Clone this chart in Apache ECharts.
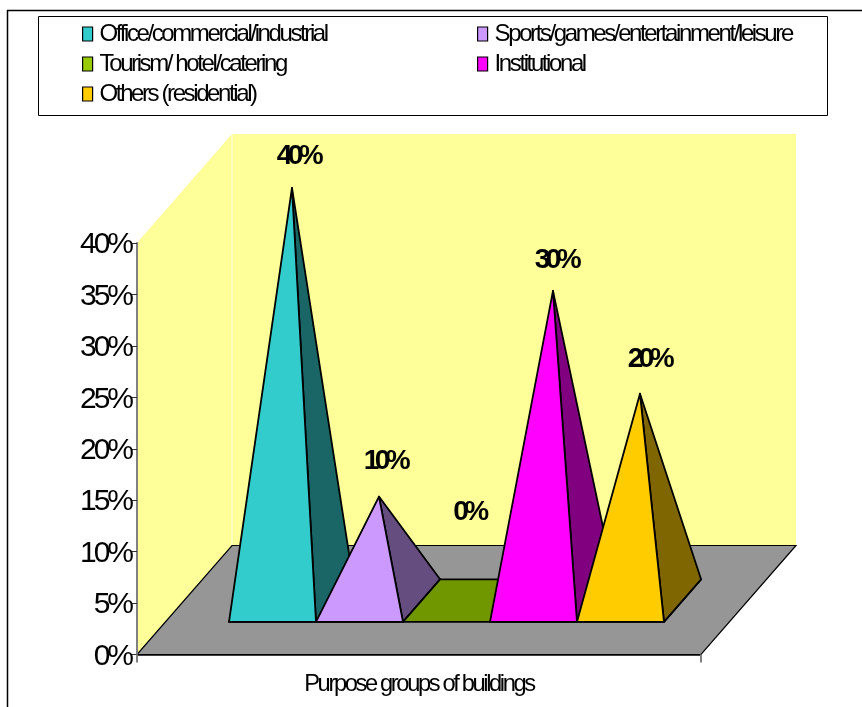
<!DOCTYPE html>
<html>
<head>
<meta charset="utf-8">
<style>html,body{margin:0;padding:0;background:#fff}#chart{width:862px;height:707px}</style>
<script src="https://cdn.jsdelivr.net/npm/echarts@6/dist/echarts.min.js"></script>
</head>
<body>
<div id="chart"></div>
<script>
// Buildings by purpose group, share of total
const categories = ['Purpose groups of buildings'];
const seriesNames = [
  'Office/commercial/industrial',
  'Sports/games/entertainment/leisure',
  'Tourism/ hotel/catering',
  'Institutional',
  'Others (residential)'
];
const seriesValues = [40, 10, 0, 30, 20];
const faceColors = ['#33CCCC', '#CC99FF', '#99CC00', '#FF00FF', '#FFCC00'];
const sideColors = ['#1A6666', '#664D80', '#709600', '#800080', '#806600'];
const legendColumns = [
  [seriesNames[0], seriesNames[2], seriesNames[4]],
  [seriesNames[1], seriesNames[3]]
];
// Offset of each value label from its pyramid's apex
const labelOffsets = [[6, -32], [6, -35], [3, -87], [3, -31], [9, -34]];

// Oblique projection of the chart box and the pyramids standing on its floor
const DEPTH = { x: 95, y: -109 };
const BASE_DEPTH = [0.30, 0.69];
const APEX_DEPTH = 0.505;
const LEAD_GAP = 63.5 / 564;
const PYRAMID_WIDTH = 87 / 564;
const FONT = '"Liberation Sans", Arial, sans-serif';

// Condensed tracking for all chart text
const ctxProto = CanvasRenderingContext2D.prototype;
const drawText = ctxProto.fillText;
ctxProto.fillText = function (...args) {
  const m = /([\d.]+)px/.exec(this.font);
  const tracking = /bold/.test(this.font) ? -0.16 : -0.1;
  this.letterSpacing = (m ? parseFloat(m[1]) * tracking : 0) + 'px';
  drawText.apply(this, args);
};

const project = (p, d) => [p[0] + DEPTH.x * d, p[1] + DEPTH.y * d];
const edgeStyle = { stroke: '#000', lineWidth: 1.8, lineJoin: 'round' };

function renderBox(params, api) {
  const band = api.size([1, 0])[0];
  const origin = api.coord([0, 0]);
  const x0 = origin[0] - band / 2, x1 = origin[0] + band / 2, y0 = origin[1];
  const yTop = api.coord([0, 40])[1];
  const poly = (points, fill, extra) => ({
    type: 'polygon', shape: { points },
    style: Object.assign({ fill, stroke: null }, extra)
  });
  return {
    type: 'group',
    children: [
      poly([[x0, yTop], project([x0, yTop], 1), project([x0, y0], 1), [x0, y0]], '#FFFF99'),
      poly([project([x0, yTop], 1), project([x1, yTop], 1), project([x1, y0], 1), project([x0, y0], 1)], '#FFFF99'),
      { type: 'line', shape: { x1: project([x0, 0], 1)[0], y1: yTop + DEPTH.y, x2: project([x0, 0], 1)[0], y2: y0 + DEPTH.y },
        style: { stroke: '#FFFFE0', lineWidth: 1 } },
      poly([[x0, y0], project([x0, y0], 1), project([x1, y0], 1), [x1, y0]], '#969696',
        { stroke: '#000', lineWidth: 1.2 })
    ]
  };
}

function pyramidRenderer(index) {
  return function (params, api) {
    const value = api.value(1);
    const band = api.size([1, 0])[0];
    const origin = api.coord([0, 0]);
    const left = origin[0] - band / 2 + band * (LEAD_GAP + PYRAMID_WIDTH * index);
    const right = left + band * PYRAMID_WIDTH;
    const y0 = origin[1];
    const rise = y0 - api.coord([0, value])[1];
    const fl = project([left, y0], BASE_DEPTH[0]);
    const fr = project([right, y0], BASE_DEPTH[0]);
    const bl = project([left, y0], BASE_DEPTH[1]);
    const br = project([right, y0], BASE_DEPTH[1]);
    const mid = project([(left + right) / 2, y0], APEX_DEPTH);
    const apex = [mid[0], mid[1] - rise];
    const face = (points, fill) => ({
      type: 'polygon', shape: { points }, style: Object.assign({ fill }, edgeStyle)
    });
    const offset = labelOffsets[index];
    const faces = [face([fl, fr, br, bl], sideColors[index])];
    // A zero share stays flat: only its base shows on the floor
    if (rise > 0) {
      faces.push(face([fr, br, apex], sideColors[index]), face([fl, fr, apex], faceColors[index]));
    }
    return {
      type: 'group',
      children: faces.concat({
        type: 'text', z2: 20,
        x: apex[0] + offset[0], y: apex[1] + offset[1],
        style: {
          text: value + '%', fill: '#000', font: 'bold 28px ' + FONT,
          align: 'center', verticalAlign: 'middle'
        }
      })
    };
  };
}

const chart = echarts.init(document.getElementById('chart'), null, { renderer: 'canvas' });

const legendBase = {
  orient: 'vertical', top: 22, itemWidth: 10, itemHeight: 14, itemGap: 6,
  icon: 'rect', selectedMode: false, padding: 0,
  itemStyle: { borderColor: '#000', borderWidth: 1.2 },
  textStyle: { fontFamily: FONT, fontSize: 24, color: '#000', padding: [0, 0, 0, 2] }
};

chart.setOption({
  animation: false,
  backgroundColor: '#fff',
  grid: { left: 137, right: 161, top: 243, bottom: 52.5 },
  legend: [
    Object.assign({}, legendBase, { left: 82, data: legendColumns[0] }),
    Object.assign({}, legendBase, { left: 477, data: legendColumns[1] })
  ],
  xAxis: {
    type: 'category', data: categories, z: 5,
    axisLine: { lineStyle: { color: '#000', width: 1.6 } },
    axisTick: { show: true, length: 8, lineStyle: { color: '#808080', width: 2 } },
    axisLabel: { fontFamily: FONT, fontSize: 23.7, color: '#000', margin: 18 }
  },
  yAxis: {
    type: 'value', min: 0, max: 40, interval: 5, z: 5,
    splitLine: { show: false },
    axisLine: { show: true, lineStyle: { color: '#808080', width: 2 } },
    axisTick: { show: true, length: 5, lineStyle: { color: '#333', width: 1 } },
    axisLabel: {
      formatter: '{value}%', fontFamily: FONT, fontSize: 30, color: '#000', margin: 6,
      verticalAlign: 'top', lineHeight: 4
    }
  },
  graphic: [
    { type: 'polyline', shape: { points: [[7.5, 707], [7.5, 10.5], [862, 10.5]] },
      style: { fill: null, stroke: '#000', lineWidth: 1.5 } },
    { type: 'polygon', shape: { points: [[38.5, 16.5], [827.5, 16.5], [827.5, 115.5], [38.5, 115.5]] },
      style: { fill: '#fff', stroke: '#000', lineWidth: 1 }, z: -1 }
  ],
  series: [
    { type: 'custom', name: 'box', silent: true, z: 1, data: [[0, 0]], renderItem: renderBox,
      encode: { x: 0, y: 1 } }
  ].concat(seriesNames.map((name, i) => ({
    type: 'custom', name, z: 2 + i, silent: true,
    itemStyle: { color: faceColors[i] },
    data: [[0, seriesValues[i]]],
    encode: { x: 0, y: 1 },
    renderItem: pyramidRenderer(i)
  })))
});
</script>
</body>
</html>
